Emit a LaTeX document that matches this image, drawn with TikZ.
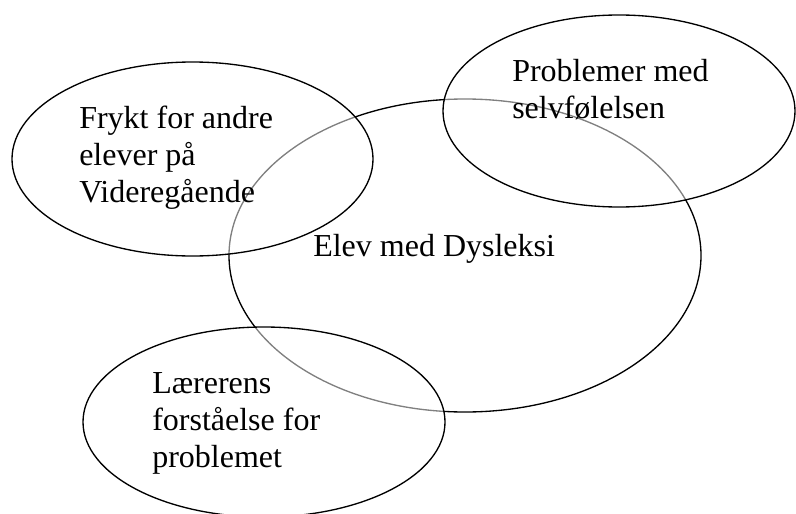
\documentclass[tikz,border=0pt]{standalone}
\usepackage{fontspec}
\setmainfont{Liberation Serif}
\usetikzlibrary{shapes.geometric}
\begin{document}
\begin{tikzpicture}[x=0.75pt,y=-0.75pt,
  bubble/.style={ellipse, draw=black, line width=1pt, inner sep=0pt, outer sep=0pt},
  cover/.style={bubble, fill=white, fill opacity=0.5, draw opacity=1},
  txt/.style={anchor=base west, inner sep=0pt, font=\fontsize{24}{27.75}\selectfont}]
\useasboundingbox (0,0) rectangle (796,514);
% central bubble, partly veiled by the outer ones
\node[bubble, minimum width=354pt, minimum height=234.75pt] (elev) at (465,255.5) {};
% outer bubbles
\node[cover, minimum width=270.75pt, minimum height=145.5pt] (frykt) at (192.5,159) {};
\node[cover, minimum width=264pt, minimum height=144pt] (selv) at (619,111) {};
\node[cover, minimum width=271.5pt, minimum height=142.5pt] (laerer) at (264,422) {};
% labels
\node[txt] (elevT) at (313,256) {Elev med Dysleksi};
\node[txt] (fryktA) at (79,128) {Frykt for andre};
\node[txt] (fryktB) at (79,165) {elever på};
\node[txt] (fryktC) at (79,202) {Videregående};
\node[txt] (selvA) at (512,81) {Problemer med};
\node[txt] (selvB) at (512,118) {selvfølelsen};
\node[txt] (laererA) at (152,393) {Lærerens};
\node[txt] (laererB) at (152,430) {forståelse for};
\node[txt] (laererC) at (152,467) {problemet};
\end{tikzpicture}
\end{document}
